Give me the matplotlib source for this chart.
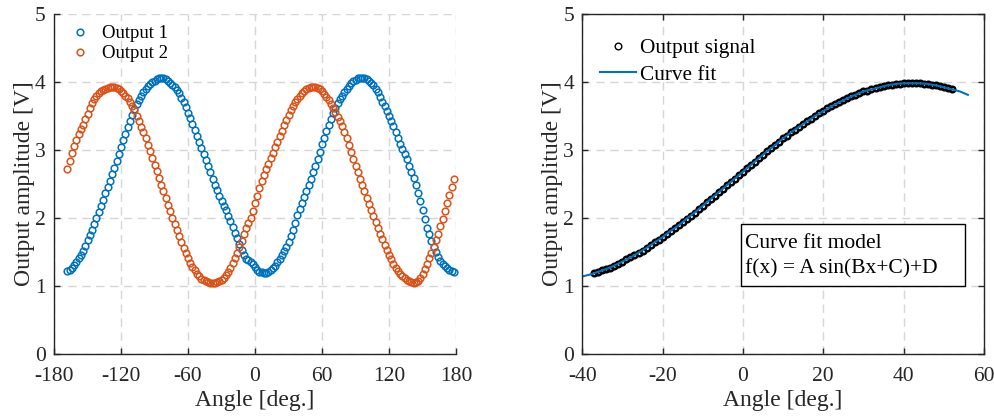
import matplotlib
matplotlib.use("Agg")
import matplotlib.pyplot as plt
from matplotlib.patches import Rectangle

plt.rcParams['font.family'] = ['Liberation Serif', 'DejaVu Serif']
plt.rcParams['axes.unicode_minus'] = False

# ---- data ----
angle = [-168, -166, -164, -162, -160, -158, -156, -154, -152, -150,
         -148, -146, -144, -142, -140, -138, -136, -134, -132, -130,
         -128, -126, -124, -122, -120, -118, -116, -114, -112, -110,
         -108, -106, -104, -102, -100, -98, -96, -94, -92, -90,
         -88, -86, -84, -82, -80, -78, -76, -74, -72, -70,
         -68, -66, -64, -62, -60, -58, -56, -54, -52, -50,
         -48, -46, -44, -42, -40, -38, -36, -34, -32, -30,
         -28, -26, -24, -22, -20, -18, -16, -14, -12, -10,
         -8, -6, -4, -2, 0, 2, 4, 6, 8, 10,
         12, 14, 16, 18, 20, 22, 24, 26, 28, 30,
         32, 34, 36, 38, 40, 42, 44, 46, 48, 50,
         52, 54, 56, 58, 60, 62, 64, 66, 68, 70,
         72, 74, 76, 78, 80, 82, 84, 86, 88, 90,
         92, 94, 96, 98, 100, 102, 104, 106, 108, 110,
         112, 114, 116, 118, 120, 122, 124, 126, 128, 130,
         132, 134, 136, 138, 140, 142, 144, 146, 148, 150,
         152, 154, 156, 158, 160, 162, 164, 166, 168, 170,
         172, 174, 176, 178]

output1 = [1.22, 1.24, 1.27, 1.31, 1.36, 1.41, 1.46, 1.52, 1.59, 1.67,
           1.75, 1.83, 1.91, 2.00, 2.09, 2.18, 2.27, 2.36, 2.45, 2.54,
           2.64, 2.74, 2.84, 2.94, 3.04, 3.14, 3.24, 3.34, 3.43, 3.52,
           3.60, 3.68, 3.74, 3.80, 3.85, 3.90, 3.94, 3.97, 4.00, 4.02,
           4.04, 4.05, 4.05, 4.05, 4.04, 4.02, 3.99, 3.96, 3.92, 3.88,
           3.83, 3.77, 3.70, 3.63, 3.55, 3.47, 3.38, 3.29, 3.20, 3.11,
           3.03, 2.94, 2.85, 2.76, 2.67, 2.58, 2.49, 2.41, 2.33, 2.25,
           2.18, 2.11, 2.03, 1.95, 1.87, 1.78, 1.70, 1.62, 1.53, 1.45,
           1.40, 1.38, 1.36, 1.33, 1.28, 1.24, 1.21, 1.20, 1.19, 1.19,
           1.21, 1.24, 1.27, 1.30, 1.35, 1.40, 1.46, 1.52, 1.58, 1.65,
           1.74, 1.83, 1.93, 2.04, 2.13, 2.22, 2.31, 2.40, 2.49, 2.58,
           2.67, 2.77, 2.87, 2.97, 3.08, 3.18, 3.28, 3.37, 3.46, 3.54,
           3.62, 3.69, 3.75, 3.80, 3.85, 3.90, 3.94, 3.98, 4.01, 4.03,
           4.05, 4.05, 4.05, 4.05, 4.04, 4.02, 3.99, 3.95, 3.90, 3.85,
           3.78, 3.71, 3.64, 3.57, 3.50, 3.43, 3.35, 3.26, 3.17, 3.09,
           3.02, 2.94, 2.86, 2.77, 2.68, 2.59, 2.48, 2.37, 2.25, 2.12,
           1.99, 1.86, 1.76, 1.66, 1.57, 1.50, 1.43, 1.37, 1.32, 1.29,
           1.26, 1.24, 1.22, 1.21]

output2 = [2.72, 2.84, 2.96, 3.06, 3.15, 3.24, 3.31, 3.37, 3.45, 3.53,
           3.62, 3.69, 3.75, 3.80, 3.83, 3.86, 3.88, 3.90, 3.91, 3.92,
           3.92, 3.92, 3.91, 3.89, 3.87, 3.84, 3.80, 3.76, 3.71, 3.65,
           3.58, 3.50, 3.42, 3.34, 3.26, 3.17, 3.07, 2.98, 2.88, 2.78,
           2.69, 2.59, 2.49, 2.39, 2.29, 2.19, 2.10, 2.00, 1.91, 1.82,
           1.73, 1.64, 1.56, 1.48, 1.41, 1.34, 1.28, 1.23, 1.18, 1.14,
           1.11, 1.09, 1.07, 1.06, 1.05, 1.05, 1.05, 1.06, 1.07, 1.09,
           1.12, 1.16, 1.21, 1.27, 1.34, 1.41, 1.49, 1.57, 1.66, 1.76,
           1.85, 1.93, 2.00, 2.10, 2.22, 2.33, 2.44, 2.54, 2.63, 2.72,
           2.80, 2.88, 2.96, 3.04, 3.12, 3.20, 3.28, 3.36, 3.44, 3.51,
           3.58, 3.64, 3.70, 3.75, 3.79, 3.83, 3.86, 3.89, 3.91, 3.92,
           3.92, 3.92, 3.91, 3.89, 3.86, 3.82, 3.78, 3.73, 3.68, 3.62,
           3.56, 3.49, 3.42, 3.35, 3.27, 3.17, 3.07, 2.97, 2.87, 2.77,
           2.67, 2.57, 2.48, 2.39, 2.30, 2.21, 2.12, 2.03, 1.94, 1.85,
           1.77, 1.69, 1.61, 1.53, 1.46, 1.39, 1.33, 1.27, 1.22, 1.18,
           1.15, 1.12, 1.09, 1.07, 1.06, 1.05, 1.06, 1.08, 1.12, 1.18,
           1.25, 1.33, 1.41, 1.49, 1.58, 1.67, 1.77, 1.88, 1.99, 2.10,
           2.22, 2.34, 2.46, 2.58]

signal_angle = [-37, -36, -35, -34, -33, -32, -31, -30, -29, -28,
                -27, -26, -25, -24, -23, -22, -21, -20, -19, -18,
                -17, -16, -15, -14, -13, -12, -11, -10, -9, -8,
                -7, -6, -5, -4, -3, -2, -1, 0, 1, 2,
                3, 4, 5, 6, 7, 8, 9, 10, 11, 12,
                13, 14, 15, 16, 17, 18, 19, 20, 21, 22,
                23, 24, 25, 26, 27, 28, 29, 30, 31, 32,
                33, 34, 35, 36, 37, 38, 39, 40, 41, 42,
                43, 44, 45, 46, 47, 48, 49, 50, 51, 52]

signal = [1.19, 1.21, 1.23, 1.25, 1.27, 1.30, 1.33, 1.36, 1.39, 1.42,
          1.45, 1.49, 1.52, 1.56, 1.60, 1.64, 1.68, 1.72, 1.76, 1.81,
          1.85, 1.89, 1.94, 1.99, 2.03, 2.08, 2.13, 2.18, 2.23, 2.28,
          2.33, 2.38, 2.43, 2.48, 2.53, 2.58, 2.63, 2.68, 2.73, 2.78,
          2.83, 2.88, 2.93, 2.98, 3.03, 3.07, 3.12, 3.17, 3.21, 3.26,
          3.30, 3.34, 3.38, 3.42, 3.46, 3.50, 3.54, 3.57, 3.61, 3.64,
          3.67, 3.70, 3.73, 3.76, 3.79, 3.81, 3.83, 3.86, 3.87, 3.89,
          3.91, 3.92, 3.94, 3.95, 3.96, 3.97, 3.97, 3.98, 3.98, 3.98,
          3.98, 3.98, 3.97, 3.97, 3.96, 3.95, 3.94, 3.92, 3.91, 3.89]

fit_angle = [-40, -38, -36, -34, -32, -30, -28, -26, -24, -22,
             -20, -18, -16, -14, -12, -10, -8, -6, -4, -2,
             0, 2, 4, 6, 8, 10, 12, 14, 16, 18,
             20, 22, 24, 26, 28, 30, 32, 34, 36, 38,
             40, 42, 44, 46, 48, 50, 52, 54, 56]

fit = [1.14, 1.17, 1.21, 1.25, 1.30, 1.36, 1.42, 1.49, 1.56, 1.64,
       1.72, 1.81, 1.89, 1.99, 2.08, 2.18, 2.28, 2.38, 2.48, 2.58,
       2.68, 2.78, 2.88, 2.98, 3.07, 3.17, 3.26, 3.34, 3.42, 3.50,
       3.57, 3.64, 3.70, 3.76, 3.81, 3.86, 3.89, 3.92, 3.95, 3.97,
       3.98, 3.98, 3.98, 3.97, 3.95, 3.92, 3.89, 3.86, 3.81]

blue = '#0072BD'
orange = '#D95319'
dark = '#262626'
gridc = '#d6d6d6'

fig = plt.figure(figsize=(9.95, 4.2), dpi=100)
ax1 = fig.add_axes([0.0543, 0.157, 0.404, 0.81])
ax2 = fig.add_axes([0.5852, 0.157, 0.4037, 0.81])


def style(ax, box):
    ax.grid(True, color=gridc, linestyle=(0, (6, 4)), linewidth=1.0)
    ax.set_axisbelow(True)
    for s in ['left', 'bottom', 'top', 'right']:
        ax.spines[s].set_color(dark)
        ax.spines[s].set_linewidth(1.0)
    if not box:
        ax.spines['top'].set_visible(False)
        ax.spines['right'].set_visible(False)
    ax.tick_params(direction='in', length=4, width=1.0, colors=dark,
                   labelsize=15.5, top=box, right=box)
    ax.tick_params(axis='x', pad=9.5)
    ax.tick_params(axis='y', pad=6)
    ax.set_ylim(0, 5)
    ax.set_yticks([0, 1, 2, 3, 4, 5])
    ax.set_ylabel('Output amplitude [V]', fontsize=17, color=dark, labelpad=0)
    ax.set_xlabel('Angle [deg.]', fontsize=17, color=dark, labelpad=3)


# left panel
ax1.plot(angle, output1, 'o', mfc='none', mec=blue, ms=4.8, mew=1.1,
         label='Output 1', clip_on=False)
ax1.plot(angle, output2, 'o', mfc='none', mec=orange, ms=4.8, mew=1.1,
         label='Output 2', clip_on=False)
ax1.set_xlim(-180, 180)
ax1.set_xticks([-180, -120, -60, 0, 60, 120, 180])
style(ax1, box=False)
ax1.legend(loc='upper left', bbox_to_anchor=(0.008, 1.0), frameon=False,
           fontsize=13.5, handlelength=1.2, handletextpad=0.6,
           labelspacing=0.15, borderaxespad=0.2)

# right panel
ax2.plot(signal_angle, signal, 'o', mfc='none', mec='black', ms=4.0, mew=1.8,
         label='Output signal')
ax2.plot(fit_angle, fit, '-', color=blue, lw=1.5, label='Curve fit')
ax2.set_xlim(-40, 60)
ax2.set_xticks([-40, -20, 0, 20, 40, 60])
style(ax2, box=True)
leg = ax2.legend(loc='upper left', bbox_to_anchor=(0.012, 0.965), frameon=False,
                 fontsize=15.3, handlelength=1.7, handletextpad=0.2,
                 labelspacing=0.3, borderaxespad=0.2)
leg.legend_handles[0].set_markeredgewidth(1.0)
leg.legend_handles[0].set_markersize(4.8)

ax2.add_patch(Rectangle((-0.5, 1.0), 55.8, 0.91, facecolor='white',
                        edgecolor='black', lw=1.0, zorder=5))
ax2.text(0.6, 1.63, 'Curve fit model', fontsize=15.5, va='center', ha='left',
         zorder=6)
ax2.text(0.6, 1.26, 'f(x) = A sin(Bx+C)+D', fontsize=15.5, va='center',
         ha='left', zorder=6)

fig.savefig('out.png', dpi=100)
